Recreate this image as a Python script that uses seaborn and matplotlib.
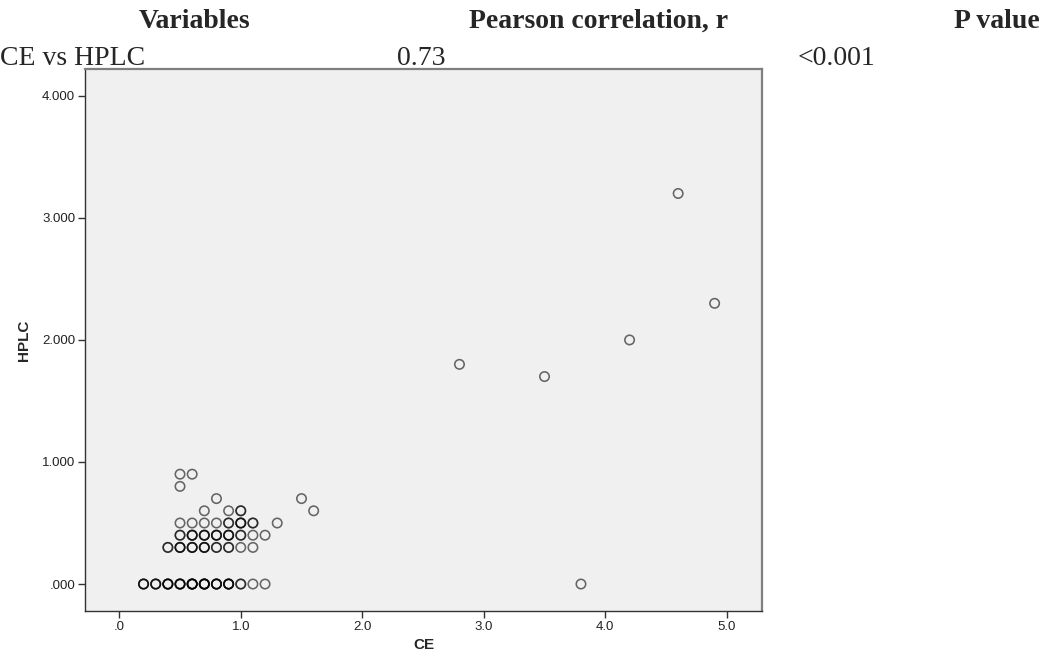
import numpy as np
import pandas as pd
import matplotlib
matplotlib.use("Agg")
import matplotlib.pyplot as plt
import seaborn as sns

# ---- data; n = number of overlapping cases ----
ce_values = [0.2, 0.3, 0.4, 0.5, 0.6, 0.7, 0.8, 0.9, 1.0, 1.1, 1.2,
             0.4, 0.5, 0.6, 0.7, 0.8, 0.9, 1.0, 1.1,
             0.5, 0.6, 0.7, 0.8, 0.9, 1.0, 1.1, 1.2,
             0.5, 0.6, 0.7, 0.8, 0.9, 1.0, 1.1, 1.3,
             0.7, 0.9, 1.0, 1.6,
             0.8, 1.5,
             0.5,
             0.5, 0.6,
             2.8, 3.5, 3.8, 4.2, 4.6, 4.9]
hplc_values = [0.0, 0.0, 0.0, 0.0, 0.0, 0.0, 0.0, 0.0, 0.0, 0.0, 0.0,
               0.3, 0.3, 0.3, 0.3, 0.3, 0.3, 0.3, 0.3,
               0.4, 0.4, 0.4, 0.4, 0.4, 0.4, 0.4, 0.4,
               0.5, 0.5, 0.5, 0.5, 0.5, 0.5, 0.5, 0.5,
               0.6, 0.6, 0.6, 0.6,
               0.7, 0.7,
               0.8,
               0.9, 0.9,
               1.8, 1.7, 0.0, 2.0, 3.2, 2.3]
n_cases = [3, 3, 4, 4, 5, 5, 4, 4, 2, 1, 1,
           2, 3, 3, 3, 2, 2, 1, 1,
           2, 3, 3, 3, 3, 2, 1, 1,
           1, 1, 1, 1, 2, 3, 2, 1,
           1, 1, 2, 1,
           1, 1,
           1,
           1, 1,
           1, 1, 1, 1, 1, 1]

x_ticks = [0, 1, 2, 3, 4, 5]
x_tick_labels = ['.0', '1.0', '2.0', '3.0', '4.0', '5.0']
y_ticks = [0, 1, 2, 3, 4]
y_tick_labels = ['.000', '1.000', '2.000', '3.000', '4.000']

header_cols = ['Variables', 'Pearson correlation, r', 'P value']
row_values = ['CE vs HPLC', '0.73', '<0.001']

df = pd.DataFrame({
    'CE': np.repeat(ce_values, n_cases),
    'HPLC': np.repeat(hplc_values, n_cases),
})

sns.set_style('white')
plt.rcParams['font.family'] = ['Liberation Sans', 'DejaVu Sans']

W, H = 1040, 667
fig = plt.figure(figsize=(W / 100, H / 100), dpi=100)
ax = fig.add_axes([85 / W, 1 - 611 / H, (762 - 85) / W, (611 - 69) / H])
ax.set_facecolor('#f0f0f0')

sns.scatterplot(data=df, x='CE', y='HPLC', ax=ax, marker='o', s=46,
                facecolors='none', edgecolor='black', linewidth=1.15,
                alpha=0.58, legend=False)

ax.set_xlim(-0.282, 5.29)
ax.set_ylim(-0.221, 4.22)
ax.set_xticks(x_ticks)
ax.set_xticklabels(x_tick_labels)
ax.set_yticks(y_ticks)
ax.set_yticklabels(y_tick_labels)
ax.tick_params(axis='both', direction='out', length=5, width=1, color='#333333',
               labelsize=9.5, labelcolor='#222222', pad=2,
               bottom=True, left=True)
ax.grid(False)

for side in ['left', 'bottom']:
    ax.spines[side].set_color('#333333')
    ax.spines[side].set_linewidth(1.0)
for side in ['top', 'right']:
    ax.spines[side].set_color('#7f7f7f')
    ax.spines[side].set_linewidth(1.6)

ax.set_xlabel('CE', fontsize=11, fontweight='bold', labelpad=4)
ax.set_ylabel('HPLC', fontsize=11, fontweight='bold', labelpad=8)

serif = ['Liberation Serif', 'DejaVu Serif']
fig.text(195 / W, 1 - 28 / H, header_cols[0], ha='center', va='baseline',
         fontsize=20, fontweight='bold', family=serif)
fig.text(599 / W, 1 - 28 / H, header_cols[1], ha='center', va='baseline',
         fontsize=20, fontweight='bold', family=serif)
fig.text(1.0, 1 - 28 / H, header_cols[2], ha='right', va='baseline',
         fontsize=20, fontweight='bold', family=serif)
fig.text(0.0, 1 - 65 / H, row_values[0], ha='left', va='baseline',
         fontsize=20, family=serif)
fig.text(397 / W, 1 - 65 / H, row_values[1], ha='left', va='baseline',
         fontsize=20, family=serif)
fig.text(798 / W, 1 - 65 / H, row_values[2], ha='left', va='baseline',
         fontsize=20, family=serif)

fig.savefig('out.png', dpi=100, facecolor='white')
